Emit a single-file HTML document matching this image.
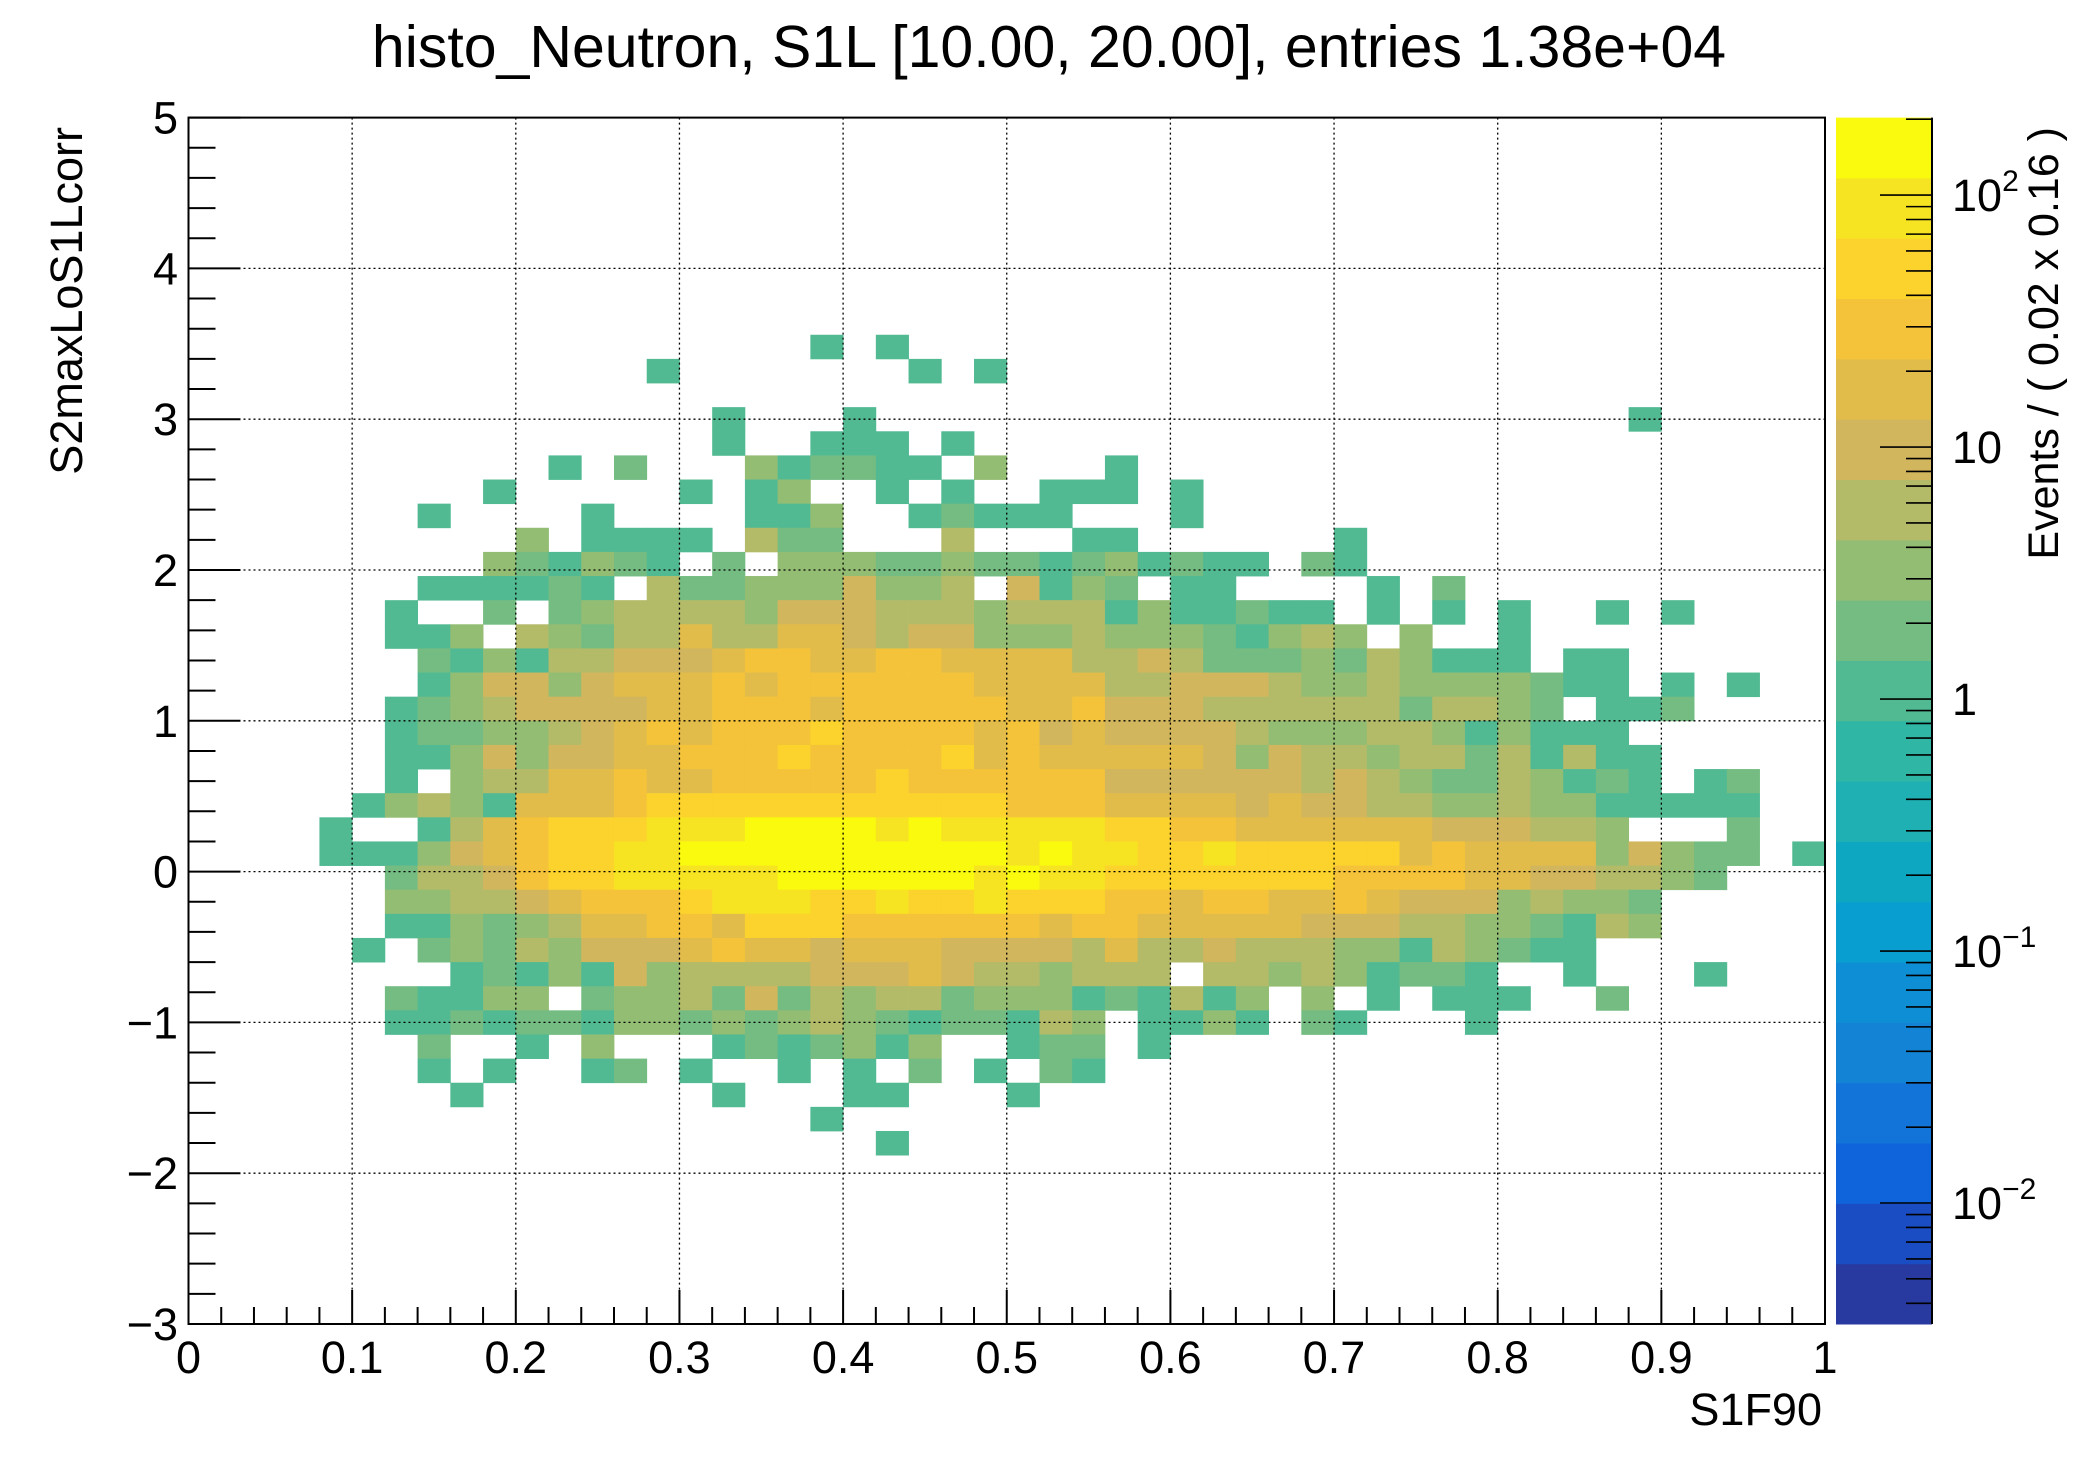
<!DOCTYPE html>
<html><head><meta charset="utf-8"><style>
html,body{margin:0;padding:0;background:#fff}
svg{display:block;font-family:"Liberation Sans",sans-serif}
</style></head><body>
<svg id="chart" xmlns="http://www.w3.org/2000/svg" width="2096" height="1472" viewBox="0 0 2096 1472">
<rect x="0" y="0" width="2096" height="1472" fill="#fff"/>
<g id="cells"></g>
<g id="grid"></g>
<g id="axes"></g>
<g id="cbar"></g>
<text x="1049" y="67" font-size="59" text-anchor="middle">histo_Neutron, S1L [10.00, 20.00], entries 1.38e+04</text>
<text x="1822" y="1425" font-size="45" text-anchor="end">S1F90</text>
<text transform="translate(82,127) rotate(-90)" font-size="45" text-anchor="end">S2maxLoS1Lcorr</text>
<text transform="translate(2058,127) rotate(-90)" font-size="43" text-anchor="end">Events / ( 0.02 x 0.16 )</text>
</svg>
<script>
// ---- data ----
const xBinCount = 50;
const yBinCount = 50;
const xRange = [0, 1];
const yRange = [-3, 5];
const levelChars = "123456789A";
const levelCounts = [1, 2, 3, 5, 9, 16, 28, 49, 85, 147];
const rowIndex = [40,39,37,36,35,34,33,32,31,30,29,28,27,26,25,24,23,22,21,20,19,18,17,16,15,14,13,12,11,10,9,8,7];
const rowStart = [19,14,16,16,11,9,7,10,9,7,6,6,7,7,6,6,6,6,5,4,4,6,6,6,5,8,6,6,7,7,8,19,21];
const rowCells = [
"1.1",
"1.......1.1",
"1...1.......................1",
"1..111.1",
"1.2...312211.3...1",
"1.....1.13..1.1..111.1",
"1....1....113..12111...1",
"3.1111.422...4...11......1",
"321321.2.333223221231211.21",
"111121."+"4223335334"+".5132.11....1.2",
"1..2.23"+"4444"+"3"+"555"+"444"+"3"+"444"+"1311211"+".1.1.1..1.1",
"113"+"."+"432"+"44"+"6"+"44"+"66"+"5"+"4"+"55"+"333"+"4"+"333"+"2"+"1"+"3"+"4"+"3"+"."+"3"+".."+"1",
"2131"+"44"+"555"+"6"+"77"+"66"+"77"+"6666"+"44"+"5"+"4"+"222"+"3"+"2"+"4"+"3"+"111"+"."+"11",
"13553"+"5"+"666"+"7"+"6"+"777777"+"6666"+"44"+"555"+"4"+"33"+"4"+"3333"+"2"+"11"+"."+"1"+"."+"1",
"1234"+"5555"+"66"+"777"+"6"+"77777"+"66"+"7"+"555"+"444444"+"2"+"44"+"3"+"2"+"."+"11"+"2",
"12233456"+"7"+"6"+"777"+"8"+"7777"+"6"+"7"+"5"+"6"+"5555"+"4"+"333"+"44"+"3"+"1"+"3"+"111",
"1135355"+"66"+"777"+"8"+"7777"+"8"+"6"+"7"+"66666"+"5"+"3"+"5"+"44"+"3"+"44"+"2"+"4"+"1"+"4"+"11",
"1.34466766"+"77777"+"8"+"777777"+"555555"+"4"+"5"+"4"+"3"+"22"+"4"+"3"+"1"+"2"+"1"+"."+"1"+"2",
"13431"+"666"+"7"+"88888888888"+"777"+"6666"+"5"+"6"+"55"+"44"+"33"+"4"+"33"+"11111",
"1..1467"+"888"+"999"+"AAAA"+"9"+"A"+"99999"+"88"+"77"+"666666"+"555"+"44"+"3"+"..."+"2",
"1113567"+"88"+"99"+"AAAAAAAAAA"+"9"+"A"+"99"+"88"+"9"+"88888"+"6"+"7"+"6666"+"3"+"5"+"3"+"22"+"."+"1",
"2445788"+"99999"+"AAAAAA"+"9"+"A"+"99"+"8888888"+"7777"+"66"+"55"+"44"+"3"+"2",
"3344567778"+"999"+"88"+"9"+"88"+"9"+"888"+"77"+"6"+"77"+"66"+"7"+"6"+"555"+"3"+"4"+"33"+"2",
"1132346677"+"6"+"888"+"777777"+"6"+"77"+"66666"+"555"+"44"+"33"+"2"+"1"+"4"+"3",
"1.23243"+"555"+"6"+"7"+"66"+"5"+"666"+"5555"+"4"+"6"+"44"+"5"+"444"+"33"+"1"+"4"+"3"+"2"+"11",
"121315"+"3"+"4444"+"555"+"6"+"5"+"44"+"3"+"444"+"."+"44"+"3"+"4"+"3"+"1"+"22"+"1"+".."+"1"+"..."+"1",
"21133."+"233425243442333"+"121413"+".3.1.111..2",
"11212213323234321221"+"43.1131.21...1",
"2..1.3...1212313..122.1",
"1.1..12.1..1.1.2.1.21",
"1.......1...11...1",
"1",
"1"
];
const xTickValues = [0,0.1,0.2,0.3,0.4,0.5,0.6,0.7,0.8,0.9,1];
const xTickLabels = ["0","0.1","0.2","0.3","0.4","0.5","0.6","0.7","0.8","0.9","1"];
const yTickValues = [-3,-2,-1,0,1,2,3,4,5];
const yTickLabels = ["\u22123","\u22122","\u22121","0","1","2","3","4","5"];
const zRange = [0.00331, 203];
const zTickExp = [-2,-1,0,1,2];
const paletteColors = ["#283aa0","#1a4cc4","#0f64dc","#1274d9","#1384d5","#0e8ed4","#089fd0","#0da7c2","#1eb0b3","#2fb6a4","#52ba93","#74bc82","#94bd74","#b3bb68","#d2b65d","#e2bc4a","#f4c33a","#fbd32c","#f6e322","#f9fa0e"];

// ---- layout ----
const L = 188.5, R = 1825, T = 117.6, B = 1324;
const CB_L = 1836, CB_R = 1932;
const NS = "http://www.w3.org/2000/svg";
function X(v){ return L + (v - xRange[0]) / (xRange[1] - xRange[0]) * (R - L); }
function Y(v){ return B - (v - yRange[0]) / (yRange[1] - yRange[0]) * (B - T); }
const zl0 = Math.log10(zRange[0]), zl1 = Math.log10(zRange[1]);
function Z(v){ return B - (Math.log10(v) - zl0) / (zl1 - zl0) * (B - T); }
function colorFor(v){
  let b = Math.floor((Math.log10(v) - zl0) / (zl1 - zl0) * paletteColors.length);
  b = Math.max(0, Math.min(paletteColors.length - 1, b));
  return paletteColors[b];
}
function mk(tag, attrs, parent){
  const e = document.createElementNS(NS, tag);
  for (const k in attrs) e.setAttribute(k, attrs[k]);
  parent.appendChild(e);
  return e;
}
const dx = (xRange[1] - xRange[0]) / xBinCount;
const dy = (yRange[1] - yRange[0]) / yBinCount;

// cells
const gCells = document.getElementById('cells');
for (let r = 0; r < rowIndex.length; r++) {
  const j = rowIndex[r];
  const s = rowCells[r];
  for (let k = 0; k < s.length; k++) {
    const li = levelChars.indexOf(s[k]);
    if (li < 0) continue;
    const i = rowStart[r] + k;
    const v = levelCounts[li];
    const x0 = X(xRange[0] + i * dx), x1 = X(xRange[0] + (i + 1) * dx);
    const y1 = Y(yRange[0] + j * dy), y0 = Y(yRange[0] + (j + 1) * dy);
    const c = mk('rect', {x: x0, y: y0, width: x1 - x0 + 0.4, height: y1 - y0 + 0.4, fill: colorFor(v)}, gCells);
    
    
  }
}

// grid
const gGrid = document.getElementById('grid');
xTickValues.forEach(v => {
  if (v <= xRange[0] || v >= xRange[1]) return;
  const l = mk('line', {x1: X(v), x2: X(v), y1: T, y2: B, stroke: '#000', 'stroke-width': 1.3, 'stroke-dasharray': '2,3'}, gGrid);
  
  
});
yTickValues.forEach(v => {
  if (v <= yRange[0] || v >= yRange[1]) return;
  const l = mk('line', {x1: L, x2: R, y1: Y(v), y2: Y(v), stroke: '#000', 'stroke-width': 1.3, 'stroke-dasharray': '2,3'}, gGrid);
  
  
});

// axes
const gAx = document.getElementById('axes');
const frame = mk('rect', {x: L, y: T, width: R - L, height: B - T, fill: 'none', stroke: '#000', 'stroke-width': 2}, gAx);


for (let m = 0; m <= 50; m++) {
  const v = xRange[0] + m * 0.02;
  const major = (m % 5 === 0);
  const t = mk('line', {x1: X(v), x2: X(v), y1: B, y2: B - (major ? 34 : 17), stroke: '#000', 'stroke-width': 2}, gAx);
  
  
}
xTickValues.forEach((v, i) => {
  const t = mk('text', {x: X(v), y: 1373, 'font-size': 45, 'text-anchor': 'middle'}, gAx);
  t.textContent = xTickLabels[i];
  
  
});
for (let m = 0; m <= 40; m++) {
  const v = yRange[0] + m * 0.2;
  const major = (m % 5 === 0);
  const t = mk('line', {x1: L, x2: L + (major ? 52 : 27), y1: Y(v), y2: Y(v), stroke: '#000', 'stroke-width': 2}, gAx);
  
  
}
yTickValues.forEach((v, i) => {
  const t = mk('text', {x: 178, y: Y(v) + 16, 'font-size': 45, 'text-anchor': 'end'}, gAx);
  t.textContent = yTickLabels[i];
  
  
});

// color bar
const gCb = document.getElementById('cbar');
paletteColors.forEach((c, b) => {
  const y0 = B - (b + 1) / paletteColors.length * (B - T);
  const y1 = B - b / paletteColors.length * (B - T);
  const r = mk('rect', {x: CB_L, y: y0, width: CB_R - CB_L, height: y1 - y0 + 0.5, fill: c}, gCb);
  
  
});
const cbAxis = mk('line', {x1: CB_R, x2: CB_R, y1: T, y2: B, stroke: '#000', 'stroke-width': 2}, gCb);


for (let e = -3; e <= 2; e++) {
  for (let k = 1; k <= 9; k++) {
    const v = k * Math.pow(10, e);
    if (v < zRange[0] || v > zRange[1]) continue;
    const len = (k === 1) ? 52 : 26;
    const t = mk('line', {x1: CB_R, x2: CB_R - len, y1: Z(v), y2: Z(v), stroke: '#000', 'stroke-width': 1.6}, gCb);
    
    
  }
}
zTickExp.forEach(e => {
  const y = Z(Math.pow(10, e));
  const t = mk('text', {x: 1952, y: y + 16, 'font-size': 45}, gCb);
  
  
  if (e === 0) t.textContent = '1';
  else if (e === 1) t.textContent = '10';
  else {
    t.textContent = '10';
    const s = mk('tspan', {dy: -20, 'font-size': 30}, t);
    s.textContent = (e < 0 ? '\u2212' : '') + Math.abs(e);
  }
});
</script>
</body></html>
